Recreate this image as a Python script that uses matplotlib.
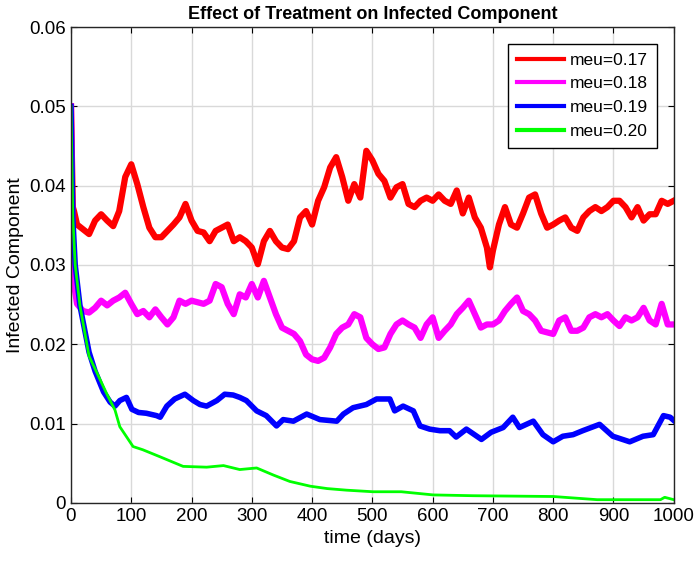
import matplotlib
matplotlib.use("Agg")
import matplotlib.pyplot as plt

plt.rcParams['font.family'] = ['Liberation Sans', 'DejaVu Sans']

# días de lectura
t_red = [0, 3, 5, 10, 20, 30, 40, 50, 60, 70, 80, 90, 100, 110, 120, 130, 140, 150,
         160, 170, 180, 190, 200, 210, 220, 230, 240, 250, 260, 270, 280, 290, 300,
         310, 320, 330, 340, 350, 360, 370, 380, 390, 400, 410, 420, 430, 440, 450,
         460, 470, 480, 490, 500, 510, 520, 530, 540, 550, 560, 570, 580, 590, 600,
         610, 620, 630, 640, 650, 660, 670, 680, 690, 695, 700, 710, 720, 730, 740,
         750, 760, 770, 780, 790, 800, 810, 820, 830, 840, 850, 860, 870, 880, 890,
         900, 910, 920, 930, 940, 950, 960, 970, 980, 990, 1000]
red = [0.0500, 0.0373, 0.0368, 0.0351, 0.0345, 0.0339, 0.0356, 0.0364, 0.0356, 0.0349,
       0.0368, 0.0411, 0.0427, 0.0402, 0.0373, 0.0347, 0.0335, 0.0335, 0.0343, 0.0351,
       0.0360, 0.0377, 0.0356, 0.0343, 0.0341, 0.0330, 0.0343, 0.0347, 0.0351, 0.0330,
       0.0335, 0.0330, 0.0322, 0.0301, 0.0330, 0.0343, 0.0330, 0.0322, 0.0320, 0.0330,
       0.0360, 0.0368, 0.0351, 0.0381, 0.0398, 0.0423, 0.0436, 0.0411, 0.0381, 0.0402,
       0.0385, 0.0444, 0.0432, 0.0415, 0.0406, 0.0385, 0.0398, 0.0402, 0.0377, 0.0373,
       0.0381, 0.0385, 0.0381, 0.0389, 0.0381, 0.0377, 0.0394, 0.0365, 0.0385, 0.0360,
       0.0347, 0.0322, 0.0297, 0.0318, 0.0351, 0.0373, 0.0351, 0.0347, 0.0365, 0.0385,
       0.0389, 0.0365, 0.0347, 0.0351, 0.0356, 0.0360, 0.0347, 0.0343, 0.0360, 0.0368,
       0.0373, 0.0368, 0.0373, 0.0381, 0.0381, 0.0373, 0.0360, 0.0373, 0.0356, 0.0364,
       0.0364, 0.0381, 0.0377, 0.0381]

t_mag = [0, 3, 5, 10, 20, 30, 40, 50, 60, 70, 80, 90, 100, 110, 120, 130, 140, 150,
         160, 170, 180, 190, 200, 210, 220, 230, 240, 250, 260, 270, 280, 290, 300,
         310, 320, 330, 340, 350, 360, 370, 380, 390, 400, 410, 420, 430, 440, 450,
         460, 470, 480, 490, 500, 510, 520, 530, 540, 550, 560, 570, 580, 590, 600,
         610, 620, 630, 640, 650, 660, 670, 680, 690, 700, 710, 720, 730, 740, 750,
         760, 770, 780, 790, 800, 810, 820, 830, 840, 850, 860, 870, 880, 890, 900,
         910, 920, 930, 940, 950, 960, 970, 980, 990, 1000]
magenta = [0.0500, 0.0293, 0.0276, 0.0251, 0.0242, 0.0240, 0.0246, 0.0255, 0.0249, 0.0255,
           0.0259, 0.0265, 0.0251, 0.0238, 0.0242, 0.0234, 0.0244, 0.0234, 0.0225, 0.0234,
           0.0255, 0.0251, 0.0255, 0.0253, 0.0251, 0.0255, 0.0276, 0.0272, 0.0251, 0.0238,
           0.0263, 0.0259, 0.0276, 0.0259, 0.0280, 0.0259, 0.0238, 0.0221, 0.0217, 0.0213,
           0.0204, 0.0187, 0.0181, 0.0179, 0.0183, 0.0196, 0.0213, 0.0221, 0.0225, 0.0238,
           0.0234, 0.0208, 0.0200, 0.0194, 0.0196, 0.0213, 0.0225, 0.0230, 0.0225, 0.0221,
           0.0208, 0.0225, 0.0234, 0.0208, 0.0217, 0.0225, 0.0238, 0.0246, 0.0255, 0.0238,
           0.0221, 0.0225, 0.0225, 0.0230, 0.0242, 0.0251, 0.0259, 0.0242, 0.0238, 0.0230,
           0.0217, 0.0215, 0.0213, 0.0230, 0.0234, 0.0217, 0.0217, 0.0221, 0.0234, 0.0238,
           0.0234, 0.0238, 0.0230, 0.0223, 0.0234, 0.0230, 0.0234, 0.0246, 0.0230, 0.0225,
           0.0251, 0.0225, 0.0225]

t_blue = [0, 3, 7, 15, 30, 40, 54, 65, 73, 81, 92, 101, 112, 125, 142, 148, 159, 172,
          189, 203, 214, 225, 242, 255, 269, 280, 291, 308, 324, 341, 352, 369, 391,
          413, 441, 452, 468, 490, 507, 529, 537, 551, 568, 579, 595, 612, 628, 639,
          656, 681, 697, 717, 733, 744, 767, 783, 800, 816, 833, 849, 877, 899, 927,
          949, 966, 983, 994, 1000]
blue = [0.0500, 0.0360, 0.0300, 0.0248, 0.0190, 0.0166, 0.0140, 0.0127, 0.0122, 0.0129,
        0.0133, 0.0118, 0.0114, 0.0113, 0.0110, 0.0108, 0.0122, 0.0131, 0.0137, 0.0129,
        0.0124, 0.0122, 0.0129, 0.0137, 0.0136, 0.0133, 0.0129, 0.0116, 0.0110, 0.0097,
        0.0105, 0.0103, 0.0112, 0.0105, 0.0103, 0.0112, 0.0120, 0.0124, 0.0131, 0.0131,
        0.0116, 0.0122, 0.0116, 0.0097, 0.0093, 0.0091, 0.0091, 0.0083, 0.0093, 0.0080,
        0.0089, 0.0095, 0.0108, 0.0095, 0.0103, 0.0086, 0.0077, 0.0084, 0.0086, 0.0091,
        0.0099, 0.0084, 0.0077, 0.0084, 0.0086, 0.0110, 0.0108, 0.0104]

t_green = [0, 3, 7, 15, 30, 43, 59, 73, 81, 103, 119, 148, 186, 225, 253, 280, 308,
           336, 363, 397, 425, 457, 501, 548, 601, 667, 800, 873, 978, 985, 1000]
green = [0.0500, 0.0360, 0.0300, 0.0248, 0.0185, 0.0164, 0.0138, 0.0117, 0.0096, 0.0071,
         0.0067, 0.0058, 0.0046, 0.0045, 0.0047, 0.0042, 0.0044, 0.0035, 0.0027, 0.0021,
         0.0018, 0.0016, 0.0014, 0.0014, 0.0010, 0.0009, 0.0008, 0.0004, 0.0004, 0.0007,
         0.0004]

etiquetas = ['meu=0.17', 'meu=0.18', 'meu=0.19', 'meu=0.20']

fig = plt.figure(figsize=(6.96, 5.65), dpi=100)
ax = fig.add_axes([0.102, 0.110, 0.866, 0.842])

ax.plot(t_red, red, color='#ff0000', lw=4.5, label=etiquetas[0])
ax.plot(t_mag, magenta, color='#ff00ff', lw=4.5, label=etiquetas[1])
ax.plot(t_blue, blue, color='#0000ff', lw=4.0, label=etiquetas[2])
ax.plot(t_green, green, color='#00ff00', lw=2.0, label=etiquetas[3])

ax.set_xlim(0, 1000)
ax.set_ylim(0, 0.06)
ax.set_xticks(range(0, 1001, 100))
ax.set_yticks([0, 0.01, 0.02, 0.03, 0.04, 0.05, 0.06])
ax.set_yticklabels(['0', '0.01', '0.02', '0.03', '0.04', '0.05', '0.06'])
ax.tick_params(direction='in', top=True, right=True, labelsize=13.5, length=4)
ax.grid(True, color='#d9d9d9', lw=1.0)
for s in ax.spines.values():
    s.set_color('#262626')
    s.set_linewidth(1.0)

ax.set_title('Effect of Treatment on Infected Component', fontsize=13, fontweight='bold', pad=6)
ax.set_xlabel('time (days)', fontsize=14)
ax.set_ylabel('Infected Component', fontsize=14)

leg = ax.legend(loc='upper right', bbox_to_anchor=(0.972, 0.965), fontsize=12.5,
                fancybox=False, framealpha=1, edgecolor='black', handlelength=2.7,
                handletextpad=0.35, borderaxespad=0, labelspacing=0.5, borderpad=0.5)
leg.get_frame().set_linewidth(1.0)
for h in leg.get_lines():
    h.set_linewidth(3.0)

fig.savefig('out.png', dpi=100)
